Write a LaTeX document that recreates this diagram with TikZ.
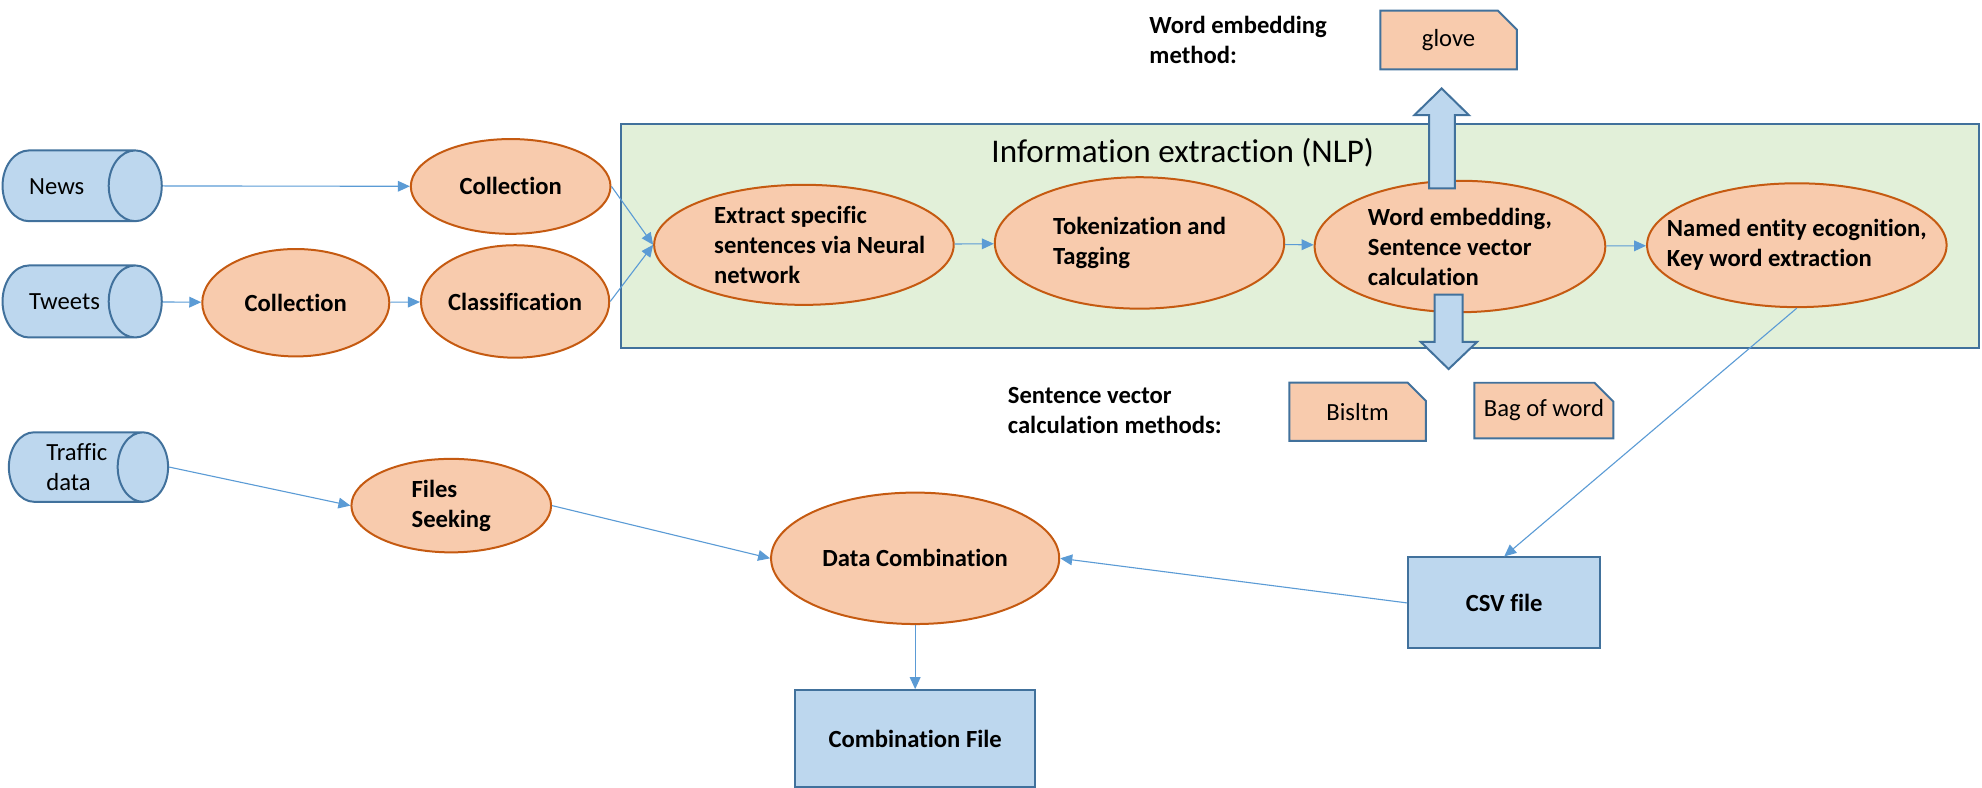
\documentclass[tikz,border=0pt]{standalone}
\usepackage{fontspec}
\setmainfont{Carlito}[Ligatures=NoCommon]
\usetikzlibrary{shapes.geometric,shapes.misc,arrows.meta}

\definecolor{peach}{HTML}{F8CBAD}
\definecolor{rust}{HTML}{C55A11}
\definecolor{paleblue}{HTML}{BDD7EE}
\definecolor{steel}{HTML}{41719C}
\definecolor{palegreen}{HTML}{E2F0D9}
\definecolor{linkblue}{HTML}{5B9BD5}

\begin{document}
\begin{tikzpicture}[x=0.02cm,y=-0.02cm,
		every node/.style={font=\fontsize{11.1}{13.5}\selectfont},
		proc/.style={ellipse,draw=rust,line width=0.9pt,fill=peach,inner xsep=-0.5cm,inner ysep=0pt,align=left,font=\fontsize{11.1}{13.5}\selectfont\bfseries},
		source/.style={cylinder,draw=steel,line width=0.9pt,fill=paleblue,inner sep=0pt,align=left,anchor=shape center,minimum height=2.52cm},
		filebox/.style={rectangle,draw=steel,line width=0.9pt,fill=paleblue,font=\fontsize{11.1}{13.5}\selectfont\bfseries},
		method/.style={chamfered rectangle,chamfered rectangle corners=north east,chamfered rectangle xsep=0.15cm,chamfered rectangle ysep=0.15cm,draw=steel,line width=0.9pt,fill=peach,inner sep=0pt},
		conn/.style={draw=linkblue,line width=0.5pt,-{Triangle[length=0.19cm,width=0.17cm]}},
		bigarrow/.style={draw=steel,line width=0.9pt,fill=paleblue}]
		\useasboundingbox (0,0) rectangle (1568,623.4);

		\node[draw=steel,line width=1pt,fill=palegreen,minimum width=21.5cm,minimum height=3.55cm] (nlpbox) at (1028.5,186.75) {};
		\node[anchor=west,inner sep=0pt,font=\fontsize{14.9}{18}\selectfont] (nlptitle) at (784,121) {Information extraction (NLP)};

		\node[source,minimum width=1.12cm,aspect=3.23,text height=0.26cm,text depth=0pt,text width=1.24cm] (news) at (65,147) {News};
		\node[source,minimum width=1.14cm,aspect=3.23,text height=0.26cm,text depth=0pt,text width=1.24cm] (tweets) at (65,238.5) {Tweets};
		\node[source,minimum width=1.1cm,aspect=1.07,text width=0.92cm] (traffic) at (70,369.5) {Traffic\\data};

		\node[proc,minimum width=3.16cm,minimum height=1.5cm] (colnews) at (404,147.5) {Collection};
		\node[proc,minimum width=2.96cm,minimum height=1.7cm] (coltweets) at (234,239.5) {Collection};
		\node[proc,minimum width=2.98cm,minimum height=1.78cm] (classif) at (407.5,238.5) {Classification};
		\node[proc,minimum width=4.74cm,minimum height=1.9cm] (extract) at (636,193.7) {\hspace*{0.5cm}Extract specific\\\hspace*{0.5cm}sentences via Neural\\\hspace*{0.5cm}network};
		\node[proc,minimum width=4.58cm,minimum height=2.08cm] (token) at (901.5,192.2) {Tokenization and\\Tagging};
		\node[proc,minimum width=4.6cm,minimum height=2.08cm] (wordemb) at (1155,195) {Word embedding,\\Sentence vector\\calculation};
		\node[proc,minimum width=4.74cm,minimum height=1.96cm] (named) at (1421.5,194) {Named entity ecognition,\\Key word extraction};
		\node[proc,minimum width=3.16cm,minimum height=1.48cm] (files) at (357,400) {Files\\Seeking};
		\node[proc,minimum width=4.56cm,minimum height=2.08cm] (datacomb) at (724,441.7) {Data Combination};

		\node[filebox,minimum width=3.04cm,minimum height=1.44cm] (csv) at (1190,477) {CSV file};
		\node[filebox,minimum width=3.8cm,minimum height=1.54cm] (combfile) at (724,584.5) {Combination File};

		\node[anchor=west,inner sep=0pt,align=left,font=\fontsize{11.1}{13.5}\selectfont\bfseries] (embedlabel) at (909,31.4) {Word embedding\\method:};
		\node[anchor=west,inner sep=0pt,align=left,font=\fontsize{11.1}{13.5}\selectfont\bfseries] (sentlabel) at (797,325) {Sentence vector\\calculation methods:};
		\node[method,minimum width=2.16cm,minimum height=0.93cm] (glove) at (1146,31.7) {glove};
		\node[method,minimum width=2.16cm,minimum height=0.92cm] (bisltm) at (1074,325.7) {Bisltm};
		\node[method,minimum width=2.2cm,minimum height=0.88cm] (bagofword) at (1221.4,324.8) {Bag of word};

		\draw[conn] (news) -- (colnews);
		\draw[conn] (tweets) -- (coltweets);
		\draw[conn] (coltweets) -- (classif);
		\draw[conn] (colnews.east) -- (extract.west);
		\draw[conn] (classif.east) -- (extract.west);
		\draw[conn] (extract) -- (token);
		\draw[conn] (token) -- (wordemb);
		\draw[conn] (wordemb) -- (named);
		\draw[conn] (named.south) -- (csv.north);
		\draw[conn] (traffic.east) -- (files.west);
		\draw[conn] (files.east) -- (datacomb.west);
		\draw[conn] (csv.west) -- (datacomb.east);
		\draw[conn] (datacomb) -- (combfile);

		\draw[bigarrow] (1130.5,149) -- (1130.5,91) -- (1119,91) -- (1140.5,70) -- (1162,91) -- (1151,91) -- (1151,149) -- cycle;
		\draw[bigarrow] (1135,233) -- (1135,270.5) -- (1124,270.5) -- (1146,292) -- (1168.5,270.5) -- (1157,270.5) -- (1157,233) -- cycle;
	\end{tikzpicture}
\end{document}
